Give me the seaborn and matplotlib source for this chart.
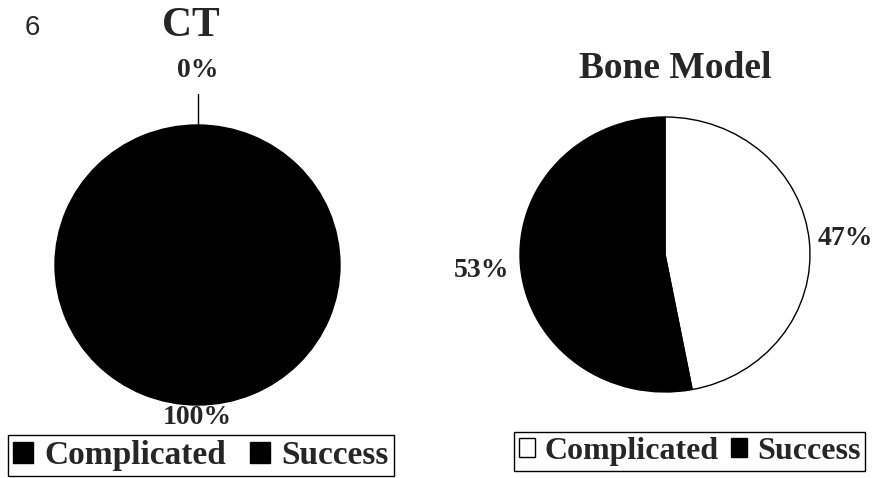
import numpy as np
import matplotlib
matplotlib.use("Agg")
import matplotlib.pyplot as plt
import seaborn as sns

categories = ["Complicated", "Success"]
ct_values = [0, 100]
bone_values = [47, 53]
ct_colors = ["black", "black"]
bone_colors = ["white", "black"]

sns.set_theme(style="white")
plt.rcParams["font.family"] = ["Liberation Serif", "DejaVu Serif"]

W, H = 881, 478
fig = plt.figure(figsize=(W / 100, H / 100), dpi=100)


def px_axes(x0, y0, x1, y1):
    # pixel box (top-down) -> figure axes
    return fig.add_axes([x0 / W, 1 - y1 / H, (x1 - x0) / W, (y1 - y0) / H])


def draw_pie(ax, values, colors, dists, leader=None):
    wedges, _ = ax.pie(values, colors=colors, startangle=90, counterclock=False,
                       wedgeprops=dict(edgecolor="black", linewidth=1.0))
    ax.set_xlim(-1, 1)
    ax.set_ylim(-1, 1)
    ax.set_aspect("auto")
    ax.axis("off")
    for w, v, d in zip(wedges, values, dists):
        mid = np.deg2rad((w.theta1 + w.theta2) / 2)
        ax.text(d * np.cos(mid), d * np.sin(mid), f"{v}%", ha="center", va="center",
                fontsize=20, fontweight="bold", clip_on=False)
        if leader is not None and v == 0:
            ax.plot([np.cos(mid), leader * np.cos(mid)], [np.sin(mid), leader * np.sin(mid)],
                    color="black", lw=1, clip_on=False)
    return wedges


ax1 = px_axes(55, 125, 340, 405)
w1 = draw_pie(ax1, ct_values, ct_colors, [1.39, 1.09], leader=1.22)

ax2 = px_axes(520, 117, 810, 392)
w2 = draw_pie(ax2, bone_values, bone_colors, [1.25, 1.27])

fig.text(191 / W, 1 - 26 / H, "CT", ha="center", va="center", fontsize=30, fontweight="bold")
fig.text(675 / W, 1 - 68 / H, "Bone Model", ha="center", va="center", fontsize=27, fontweight="bold")
fig.text(25 / W, 1 - 28 / H, "6", ha="left", va="center", fontsize=20,
         family=["Liberation Sans", "DejaVu Sans"])

# left legend is roomier than the right one in the original
legend_opts = [
    (w1, (8, 435), dict(size=24, handlelength=0.6, handletextpad=0.35, columnspacing=0.7)),
    (w2, (514, 432), dict(size=23, handlelength=0.5, handletextpad=0.3, columnspacing=0.4)),
]
for wedges, anchor, o in legend_opts:
    leg = fig.legend(wedges, categories, loc="upper left",
                     bbox_to_anchor=(anchor[0] / W, 1 - anchor[1] / H), ncol=2,
                     frameon=True, fancybox=False, edgecolor="black", framealpha=1,
                     prop=dict(size=o["size"], weight="bold"),
                     handlelength=o["handlelength"], handleheight=o["handlelength"],
                     handletextpad=o["handletextpad"], columnspacing=o["columnspacing"],
                     borderpad=0.15, borderaxespad=0)
    leg.get_frame().set_linewidth(1.0)

fig.savefig("out.png", dpi=100)
